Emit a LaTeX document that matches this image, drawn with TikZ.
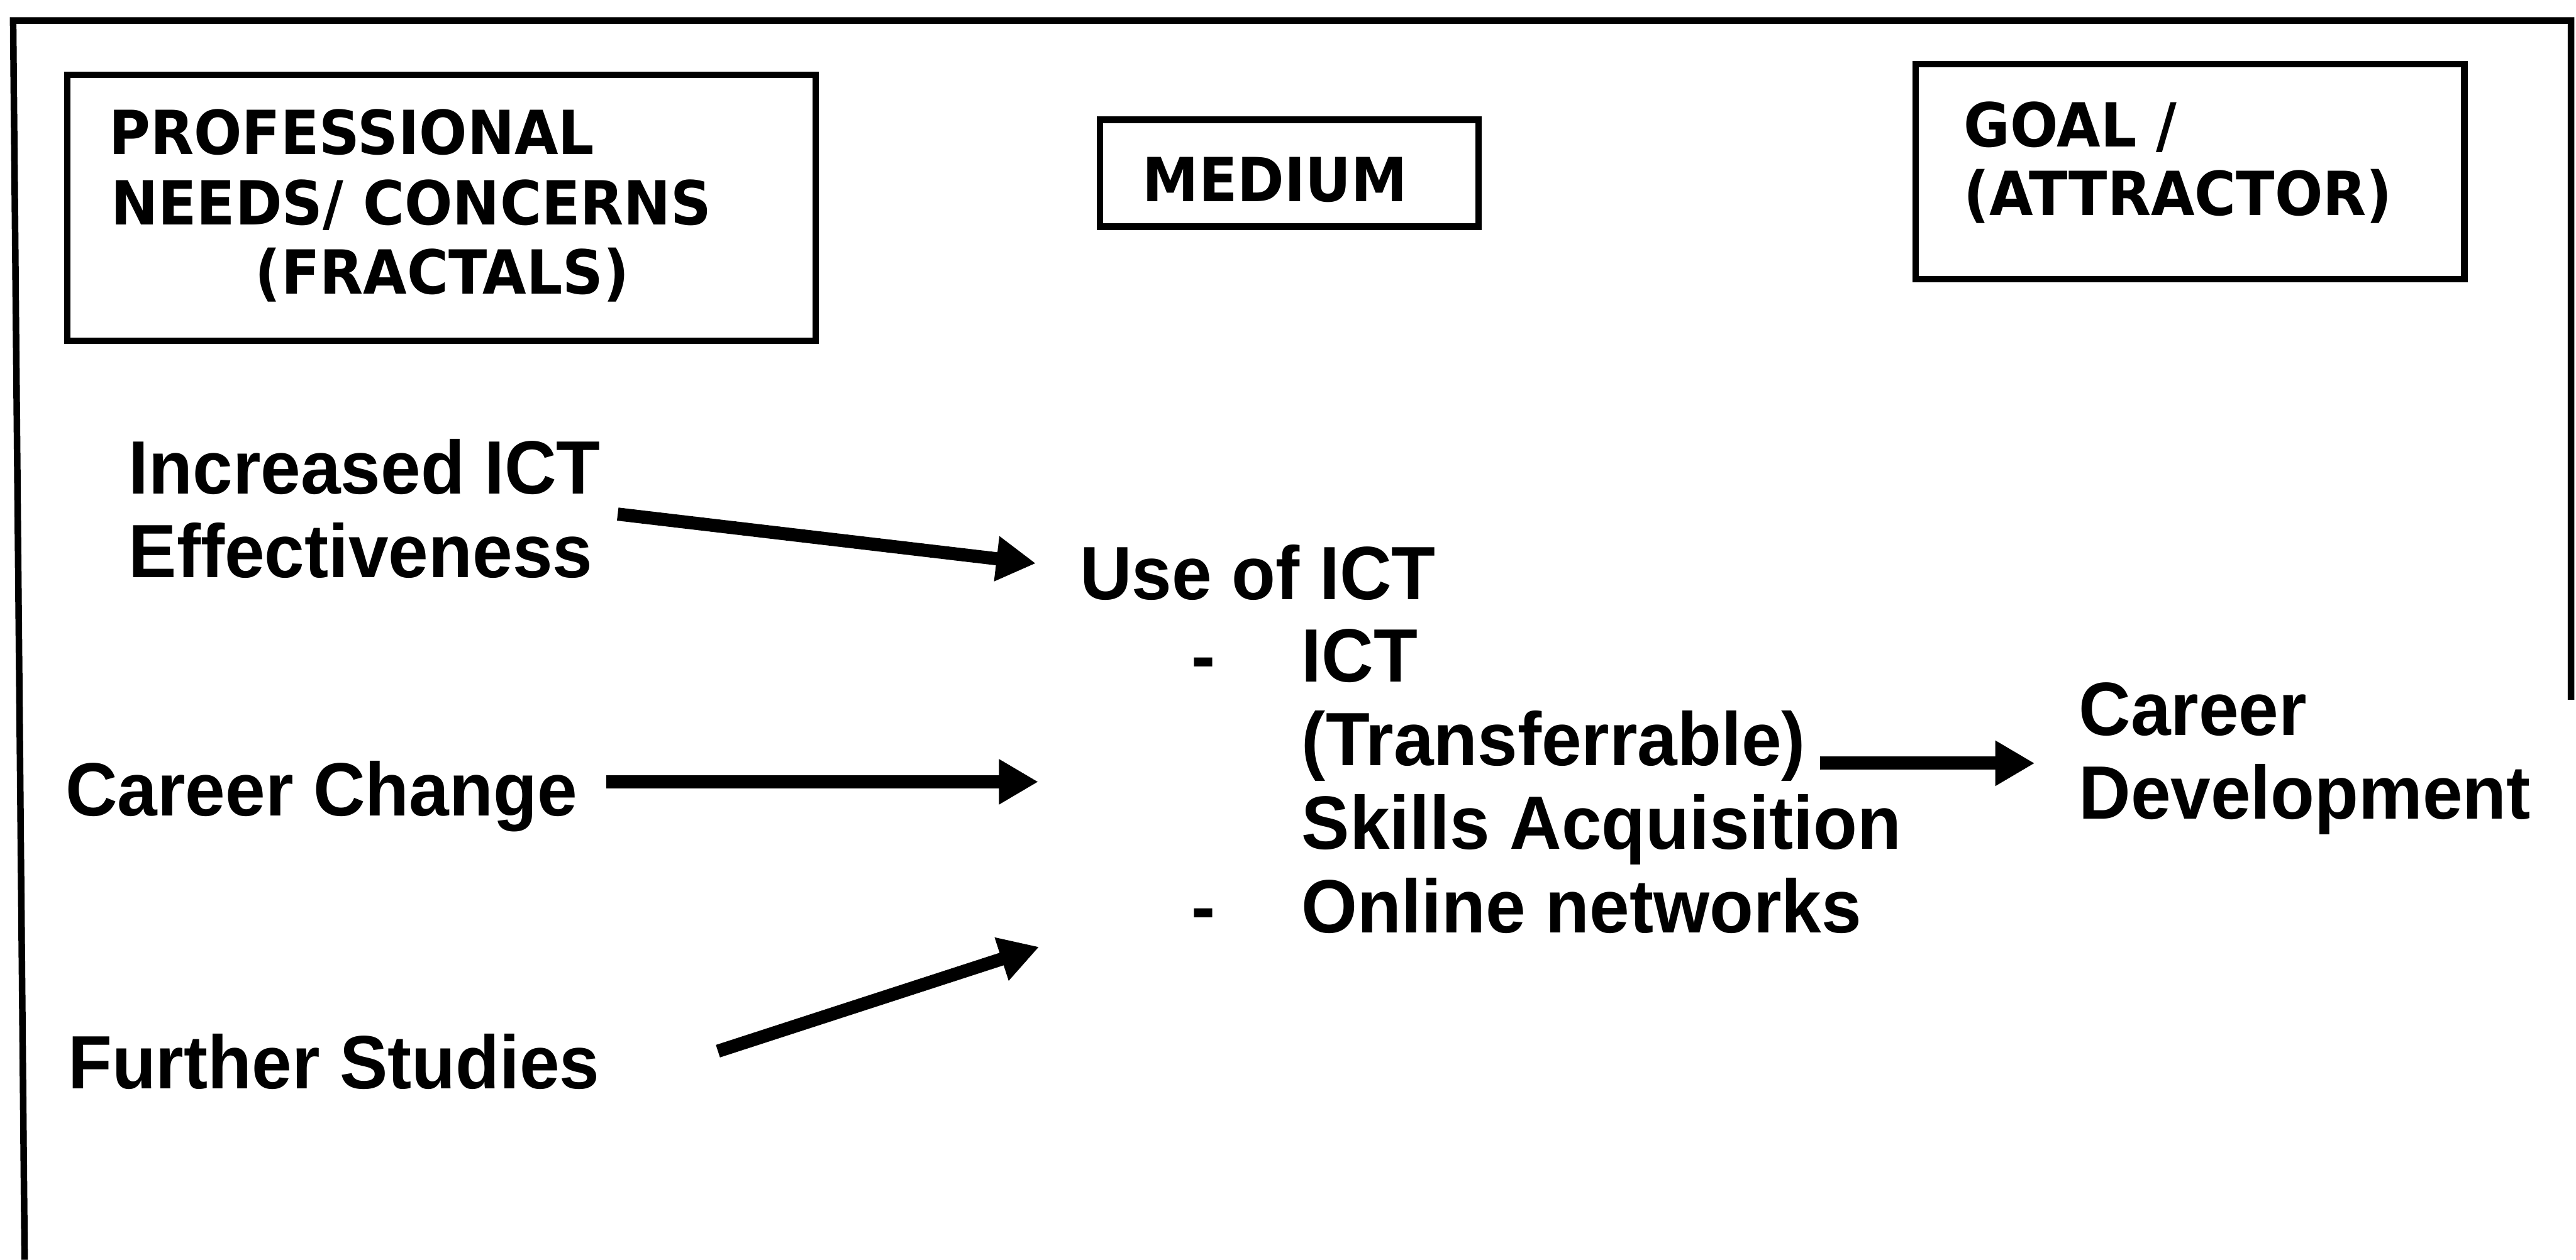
\documentclass[tikz,border=0pt]{standalone}
\usepackage{fontspec}
\usetikzlibrary{arrows.meta}
\newfontfamily\bodyfont{Liberation Sans}[FakeStretch=0.952]
\newfontfamily\headfont{DejaVu Sans}[FakeStretch=0.93]

\tikzset{
  frameline/.style={line width=2pt, line join=miter},
  headbox/.style={draw, line width=2pt, rectangle, inner sep=0pt},
  headtext/.style={anchor=base west, inner sep=0pt,
    font=\headfont\bfseries\fontsize{18.5pt}{21.25pt}\selectfont},
  bodytext/.style={anchor=base west, inner sep=0pt,
    font=\bodyfont\bfseries\fontsize{23pt}{25.5pt}\selectfont},
  flow/.style={line width=4pt,
    -{Triangle[length=12pt, width=13pt]}}
}

\begin{document}
\begin{tikzpicture}[x=0.5pt, y=-0.5pt]
\useasboundingbox (0,0) rectangle (1568,767);

% outer frame (open at the bottom, right side partly drawn)
\draw[frameline] (15,767) -- (8,12.5) -- (1565,12.5) -- (1565,426);

% header boxes
\node[headbox, minimum width=227.75pt, minimum height=81pt] (needsbox) at (268.75,126.5) {};
\node[headbox, minimum width=115.25pt, minimum height=32.5pt] (mediumbox) at (784.75,105.5) {};
\node[headbox, minimum width=167pt, minimum height=65.5pt] (goalbox) at (1333,104.5) {};

% header captions
\node[headtext] (needsA) at (66,94) {PROFESSIONAL};
\node[headtext] (needsB) at (67,137) {NEEDS/ CONCERNS};
\node[headtext] (needsC) at (155,179) {(FRACTALS)};
\node[headtext] (medium) at (695,122.5) {MEDIUM};
\node[headtext] (goalA) at (1195,89.4) {GOAL /};
\node[headtext] (goalB) at (1195,131) {(ATTRACTOR)};

% professional needs
\node[bodytext] (inc) at (78,300.5)
  {\begin{tabular}[t]{@{}l@{}}Increased ICT\\Effectiveness\end{tabular}};
\node[bodytext] (change) at (39.5,496.8) {Career Change};
\node[bodytext] (studies) at (41,663) {Further Studies};

% medium
\node[bodytext] (use) at (657,365) {Use of ICT};
\node[bodytext] (items) at (725,415)
  {\begin{tabular}[t]{@{}p{33.5pt}@{}l@{}}
   -&ICT\\
    &(Transferrable)\\
    &Skills Acquisition\\
   -&Online networks
   \end{tabular}};

% goal
\node[bodytext] (career) at (1265,447.7)
  {\begin{tabular}[t]{@{}l@{}}Career\\Development\end{tabular}};

% arrow end points
\coordinate (incout) at (376,313);
\coordinate (incin) at (630.5,343);
\coordinate (changeout) at (369,476);
\coordinate (changein) at (632,476);
\coordinate (studiesout) at (437,640);
\coordinate (studiesin) at (632.5,576.5);
\coordinate (skillsout) at (1108,464.7);
\coordinate (skillsin) at (1238.5,464.7);

\draw[flow] (incout) -- (incin);
\draw[flow] (changeout) -- (changein);
\draw[flow] (studiesout) -- (studiesin);
\draw[flow] (skillsout) -- (skillsin);
\end{tikzpicture}
\end{document}
